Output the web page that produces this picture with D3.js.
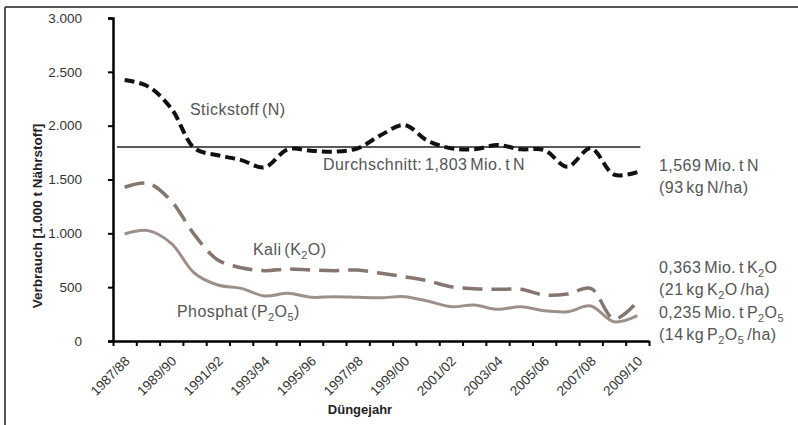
<!DOCTYPE html>
<html>
<head>
<meta charset="utf-8">
<script src="https://cdn.jsdelivr.net/npm/d3@7"></script>
<style>
  html, body { margin: 0; padding: 0; background: #fff; }
  svg text { font-family: "Liberation Sans", Arial, sans-serif; }
</style>
</head>
<body>
<svg id="chart" width="798" height="425"></svg>
<script>
const years = ["1987/88","1988/89","1989/90","1990/91","1991/92","1992/93","1993/94","1994/95","1995/96","1996/97","1997/98","1998/99","1999/00","2000/01","2001/02","2002/03","2003/04","2004/05","2005/06","2006/07","2007/08","2008/09","2009/10"];
const stickstoff = [2425,2365,2160,1790,1725,1680,1613,1780,1768,1758,1790,1913,2006,1860,1790,1780,1820,1780,1774,1619,1790,1545,1569];
const kali = [1428,1465,1300,985,752,681,653,669,659,653,659,629,597,560,504,486,480,480,427,436,489,205,363];
const phosphat = [994,1025,907,629,520,489,418,443,406,412,406,402,412,371,319,334,294,319,281,272,325,178,235];
const average = 1803;
const yTicks = [0,500,1000,1500,2000,2500,3000];

(function () {
const svg = d3.select("#chart");
const pLeft = 113, pRight = 649, pTop = 18, pBottom = 341;

const x = d3.scaleBand().domain(years).range([pLeft, pRight]).paddingInner(0).paddingOuter(0);
const xIdx = d3.scaleLinear().domain([0, years.length]).range([pLeft, pRight]);
const y = d3.scaleLinear().domain([0, 3000]).range([pBottom, pTop]);
const cx = d => x(d) + x.bandwidth() / 2;

// frame lines (top and left)
svg.append("line").attr("x1",5).attr("x2",798).attr("y1",7).attr("y2",7).attr("stroke","#555").attr("stroke-width",2);
svg.append("line").attr("x1",5).attr("x2",5).attr("y1",7).attr("y2",425).attr("stroke","#555").attr("stroke-width",2);

// y axis
const fmt = v => d3.format(",")(v).replace(/,/g, ".");
const yAxis = d3.axisLeft(y).tickValues(yTicks).tickFormat(fmt).tickSize(5).tickPadding(26);
const gy = svg.append("g").attr("transform", `translate(${pLeft},0)`).call(yAxis);
gy.select(".domain").attr("stroke","#000").attr("stroke-width",2.5);
gy.selectAll(".tick line").attr("stroke","#000").attr("stroke-width",2);
gy.selectAll(".tick text").attr("font-size",13.5).attr("fill","#333").style("font-family","Liberation Sans, Arial, sans-serif");

// x axis (ticks at category boundaries)
const xAxis = d3.axisBottom(xIdx).tickValues(d3.range(0, years.length + 1)).tickFormat("").tickSize(5).tickSizeOuter(0);
const gx = svg.append("g").attr("transform", `translate(0,${pBottom})`).call(xAxis);
gx.select(".domain").attr("stroke","#000").attr("stroke-width",2.5);
gx.selectAll(".tick line").attr("stroke","#000").attr("stroke-width",2);

// x labels every other category
svg.append("g").selectAll("text").data(years.filter((d,i) => i % 2 === 0)).join("text")
  .attr("transform", d => `translate(${cx(d) + 6},${pBottom + 21}) rotate(-45)`)
  .attr("text-anchor","end")
  .attr("font-size",13.5)
  .attr("fill","#333")
  .text(d => d);

// axis titles
svg.append("text").attr("x",360).attr("y",414).attr("text-anchor","middle")
  .attr("font-size",13).attr("font-weight","bold").attr("fill","#222").text("Düngejahr");
svg.append("text").attr("transform","translate(42,216) rotate(-90)").attr("text-anchor","middle")
  .attr("font-size",13.5).attr("font-weight","bold").attr("fill","#222").text("Verbrauch [1.000 t Nährstoff]");

// average line
svg.append("line").attr("x1", pLeft + 4).attr("x2", cx(years[years.length-1]) + 3)
  .attr("y1", y(average)).attr("y2", y(average)).attr("stroke","#222").attr("stroke-width",1.5);

const line = d3.line().x((d,i) => cx(years[i])).y(d => y(d)).curve(d3.curveCatmullRom.alpha(0.5));

svg.append("path").datum(phosphat).attr("d", line).attr("fill","none")
  .attr("stroke","#9d908b").attr("stroke-width",3);
svg.append("path").datum(kali).attr("d", line).attr("fill","none")
  .attr("stroke","#85766f").attr("stroke-width",3.5).attr("stroke-dasharray","20,9");
svg.append("path").datum(stickstoff).attr("d", line).attr("fill","none")
  .attr("stroke","#111").attr("stroke-width",4).attr("stroke-dasharray","10,5");

// text labels
const lab = (xp, yp, parts) => {
  const t = svg.append("text").attr("x", xp).attr("y", yp).attr("font-size", 16).attr("fill", "#555")
    .style("letter-spacing", "0.45px").style("word-spacing", "-2px");
  let shifted = 0;
  parts.forEach(p => {
    if (typeof p === "string") {
      t.append("tspan").attr("dy", -shifted).text(p);
      shifted = 0;
    } else {
      t.append("tspan").attr("font-size", 11).attr("dy", 4 - shifted).text(p.sub);
      shifted = 4;
    }
  });
  return t;
};
lab(190, 115, ["Stickstoff (N)"]);
lab(323, 170, ["Durchschnitt: 1,803 Mio. t N"]);
lab(253, 255, ["Kali (K", {sub:"2"}, "O)"]);
lab(177, 317, ["Phosphat (P", {sub:"2"}, "O", {sub:"5"}, ")"]);
lab(659, 171, ["1,569 Mio. t N"]);
lab(659, 193, ["(93 kg N/ha)"]);
lab(659, 273, ["0,363 Mio. t K", {sub:"2"}, "O"]);
lab(659, 295, ["(21 kg K", {sub:"2"}, "O /ha)"]);
lab(659, 318, ["0,235 Mio. t P", {sub:"2"}, "O", {sub:"5"}]);
lab(659, 340, ["(14 kg P", {sub:"2"}, "O", {sub:"5"}, " /ha)"]);
})();
</script>
</body>
</html>
